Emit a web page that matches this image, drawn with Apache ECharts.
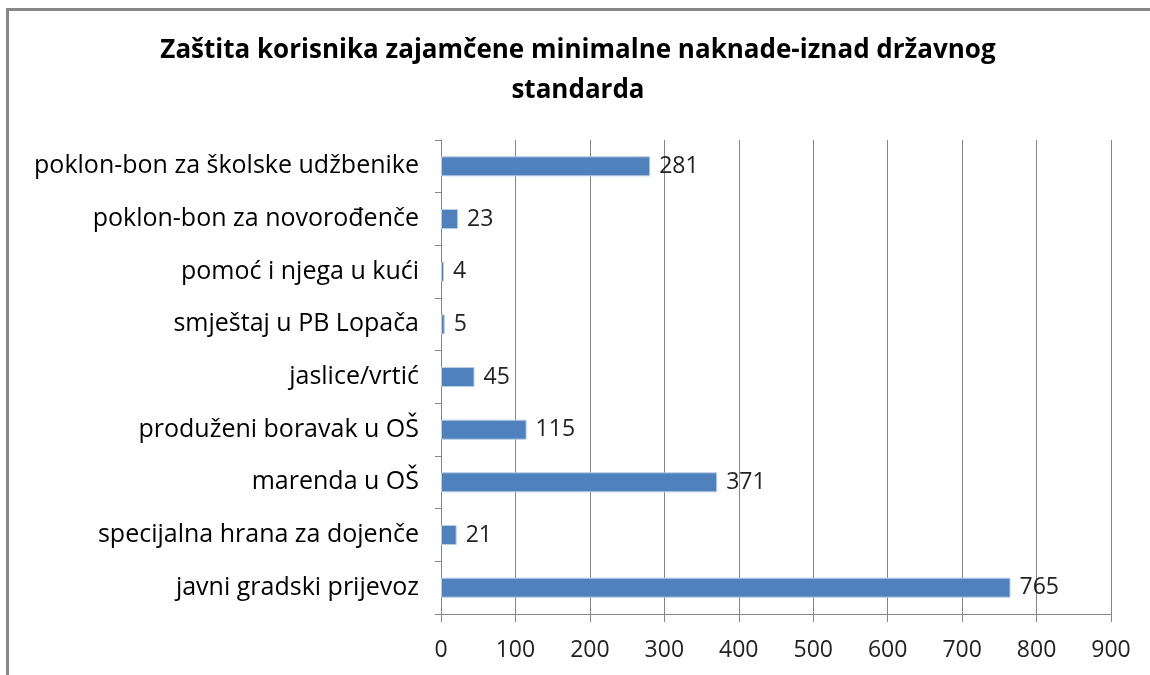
<!DOCTYPE html>
<html><head><meta charset="utf-8">
<script src="https://cdn.jsdelivr.net/npm/echarts@6/dist/echarts.min.js"></script>
<style>html,body{margin:0;padding:0;background:#fff}#c{width:1150px;height:675px}</style>
</head><body><div id="c"></div>
<script>
const categories = ['javni gradski prijevoz','specijalna hrana za dojenče','marenda u OŠ','produženi boravak u OŠ','jaslice/vrtić','smještaj u PB Lopača','pomoć i njega u kući','poklon-bon za novorođenče','poklon-bon za školske udžbenike'];
const values = [765, 21, 371, 115, 45, 5, 4, 23, 281];
const titleText = 'Zaštita korisnika zajamčene minimalne naknade-iznad državnog\nstandarda';
const font = '"Open Sans", "Noto Sans", sans-serif';
const chart = echarts.init(document.getElementById('c'));
chart.setOption({
  animation: false,
  title: { text: titleText, left: 573, textAlign: 'center', top: 26,
    textStyle: { fontFamily: font, fontSize: 26, fontWeight: 'bold', color: '#000', lineHeight: 40 } },
  graphic: [{ type: 'rect', shape: { x: 7.5, y: 9.5, width: 1200, height: 700 },
    style: { fill: 'none', stroke: '#888', lineWidth: 3 } }],
  grid: { left: 441, right: 39, top: 140, bottom: 61 },
  xAxis: { type: 'value', min: 0, max: 900, interval: 100,
    axisLine: { show: true, lineStyle: { color: '#868686' } },
    axisTick: { show: true, length: 8, lineStyle: { color: '#868686' } },
    axisLabel: { fontFamily: font, fontSize: 23, color: '#222', margin: 25 },
    splitLine: { show: true, lineStyle: { color: '#868686' } } },
  yAxis: { type: 'category', data: categories,
    axisLine: { show: true, lineStyle: { color: '#868686' } },
    axisTick: { show: true, length: 6, lineStyle: { color: '#868686' } },
    axisLabel: { fontFamily: font, fontSize: 25, color: '#000', margin: 22 } },
  series: [{ type: 'bar', data: values, barWidth: 20,
    itemStyle: { color: '#4F81BD', borderColor: '#B9CDE5', borderWidth: 1 },
    label: { show: true, position: 'right', distance: 9, fontFamily: font, fontSize: 23, color: '#222' } }]
});
</script></body></html>
